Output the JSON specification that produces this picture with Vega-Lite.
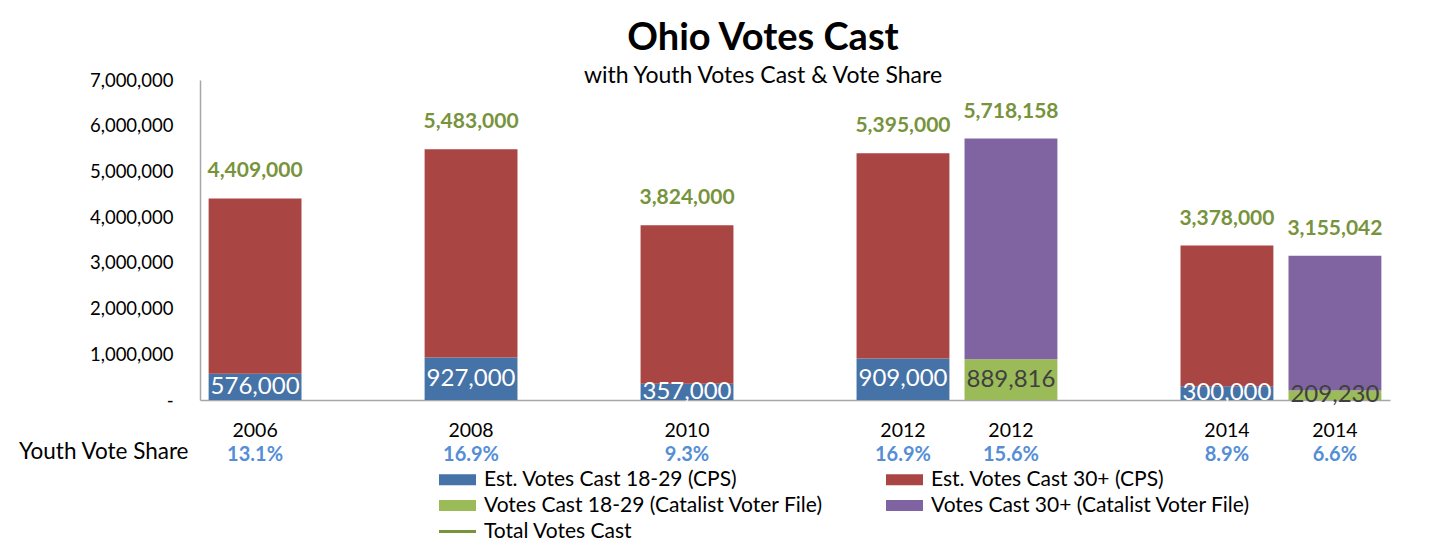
{
  "$schema": "https://vega.github.io/schema/vega-lite/v6.json",
  "autosize": {"type": "none"},
  "width": 1190,
  "height": 320,
  "padding": {"left": 200, "top": 80, "right": 60, "bottom": 144},
  "background": "white",
  "config": {"font": "Lato", "view": {"stroke": null}},
  "title": {
    "text": "Ohio Votes Cast",
    "subtitle": "with Youth Votes Cast & Vote Share",
    "anchor": "middle",
    "frame": "group",
    "dx": -32,
    "fontSize": 38,
    "fontWeight": "bold",
    "color": "black",
    "subtitleFontSize": 23,
    "subtitleColor": "black",
    "subtitlePadding": 7,
    "offset": -17
  },
  "datasets": {
    "segments": [
      {"slot": "2006", "series": "Est. Votes Cast 18-29 (CPS)", "value": 576000},
      {"slot": "2006", "series": "Est. Votes Cast 30+ (CPS)", "value": 3833000},
      {"slot": "2008", "series": "Est. Votes Cast 18-29 (CPS)", "value": 927000},
      {"slot": "2008", "series": "Est. Votes Cast 30+ (CPS)", "value": 4556000},
      {"slot": "2010", "series": "Est. Votes Cast 18-29 (CPS)", "value": 357000},
      {"slot": "2010", "series": "Est. Votes Cast 30+ (CPS)", "value": 3467000},
      {"slot": "2012 CPS", "series": "Est. Votes Cast 18-29 (CPS)", "value": 909000},
      {"slot": "2012 CPS", "series": "Est. Votes Cast 30+ (CPS)", "value": 4486000},
      {"slot": "2012 Catalist", "series": "Votes Cast 18-29 (Catalist Voter File)", "value": 889816},
      {"slot": "2012 Catalist", "series": "Votes Cast 30+ (Catalist Voter File)", "value": 4828342},
      {"slot": "2014 CPS", "series": "Est. Votes Cast 18-29 (CPS)", "value": 300000},
      {"slot": "2014 CPS", "series": "Est. Votes Cast 30+ (CPS)", "value": 3078000},
      {"slot": "2014 Catalist", "series": "Votes Cast 18-29 (Catalist Voter File)", "value": 209230},
      {"slot": "2014 Catalist", "series": "Votes Cast 30+ (Catalist Voter File)", "value": 2945812}
    ],
    "bars": [
      {"slot": "2006", "source": "CPS", "youth": 576000, "total": 4409000, "share": 0.131},
      {"slot": "2008", "source": "CPS", "youth": 927000, "total": 5483000, "share": 0.169},
      {"slot": "2010", "source": "CPS", "youth": 357000, "total": 3824000, "share": 0.093},
      {"slot": "2012 CPS", "source": "CPS", "youth": 909000, "total": 5395000, "share": 0.169},
      {"slot": "2012 Catalist", "source": "Catalist", "youth": 889816, "total": 5718158, "share": 0.156},
      {"slot": "2014 CPS", "source": "CPS", "youth": 300000, "total": 3378000, "share": 0.089},
      {"slot": "2014 Catalist", "source": "Catalist", "youth": 209230, "total": 3155042, "share": 0.066}
    ]
  },
  "encoding": {
    "x": {
      "field": "slot",
      "type": "nominal",
      "scale": {
        "domain": ["2006", "gap1", "2008", "gap2", "2010", "gap3", "2012 CPS", "2012 Catalist", "gap4", "2014 CPS", "2014 Catalist"],
        "paddingInner": 0.14,
        "paddingOuter": 0.08
      },
      "axis": {
        "orient": "bottom",
        "labelAngle": 0,
        "labelExpr": "indexof(datum.value, 'gap') === 0 ? '' : substring(datum.value, 0, 4)",
        "labelFontSize": 19.5,
        "labelColor": "black",
        "labelPadding": 21,
        "ticks": false,
        "domainColor": "#A6A6A6",
        "domainWidth": 1.5,
        "title": "Youth Vote Share",
        "titleFontSize": 22.5,
        "titleFontWeight": "normal",
        "titleColor": "black",
        "titleX": -12,
        "titleY": 51,
        "titleAlign": "right",
        "titleBaseline": "middle",
        "titleAnchor": null
      }
    }
  },
  "layer": [
    {
      "data": {"name": "segments"},
      "mark": {"type": "bar"},
      "encoding": {
        "y": {
          "field": "value",
          "type": "quantitative",
          "stack": "zero",
          "scale": {"domain": [0, 7000000], "nice": false},
          "axis": {
            "values": [0, 1000000, 2000000, 3000000, 4000000, 5000000, 6000000, 7000000],
            "labelExpr": "datum.value === 0 ? '-' : format(datum.value, ',')",
            "labelFontSize": 18.5,
            "labelColor": "black",
            "labelPadding": 27,
            "ticks": false,
            "grid": false,
            "domainColor": "#A6A6A6",
            "domainWidth": 1.5,
            "title": null
          }
        },
        "order": {"field": "series", "sort": "ascending"},
        "color": {
          "field": "series",
          "type": "nominal",
          "scale": {
            "domain": ["Est. Votes Cast 18-29 (CPS)", "Votes Cast 18-29 (Catalist Voter File)", "Total Votes Cast", "Est. Votes Cast 30+ (CPS)", "Votes Cast 30+ (Catalist Voter File)"],
            "range": ["#4572A7", "#9BBB59", "#77933C", "#A94643", "#8064A2"]
          },
          "legend": {
            "orient": "none",
            "legendX": 247,
            "legendY": 389,
            "columns": 2,
            "columnPadding": 62,
            "rowPadding": 4,
            "title": null,
            "labelFontSize": 21,
            "labelColor": "black",
            "labelOffset": 16,
            "labelLimit": 600,
            "symbolType": "M-1,-0.3H1V0.3H-1Z",
            "symbolSize": 1369,
            "symbolStrokeWidth": 0,
            "encode": {
              "symbols": {
                "update": {
                  "shape": {"signal": "datum.value === 'Total Votes Cast' ? 'stroke' : 'M-1,-0.3H1V0.3H-1Z'"},
                  "stroke": {"signal": "datum.value === 'Total Votes Cast' ? '#77933C' : 'transparent'"},
                  "strokeWidth": {"signal": "datum.value === 'Total Votes Cast' ? 3 : 0"},
                  "strokeOpacity": {"value": 1}
                }
              }
            }
          }
        }
      }
    },
    {
      "data": {"name": "bars"},
      "mark": {"type": "text", "dy": -27, "fontSize": 21, "fontWeight": "bold", "color": "#77933C"},
      "encoding": {
        "y": {"field": "total", "type": "quantitative", "scale": {"domain": [0, 7000000], "nice": false}, "axis": null},
        "text": {"field": "total", "type": "quantitative", "format": ","}
      }
    },
    {
      "data": {"name": "bars"},
      "mark": {"type": "text", "fontSize": 24, "baseline": "middle"},
      "encoding": {
        "y": {"field": "youth", "type": "quantitative", "scale": {"domain": [0, 14000000], "nice": false}, "axis": null},
        "text": {"field": "youth", "type": "quantitative", "format": ","},
        "color": {"condition": {"test": "datum.source === 'CPS'", "value": "white"}, "value": "#404040"}
      }
    },
    {
      "data": {"name": "bars"},
      "mark": {"type": "text", "dy": 55, "fontSize": 20, "fontWeight": "bold", "color": "#558ED5", "baseline": "middle"},
      "encoding": {
        "y": {"datum": 0, "type": "quantitative", "scale": {"domain": [0, 7000000], "nice": false}, "axis": null},
        "text": {"field": "share", "type": "quantitative", "format": ".1%"}
      }
    }
  ],
  "resolve": {"scale": {"y": "independent", "color": "independent"}}
}
